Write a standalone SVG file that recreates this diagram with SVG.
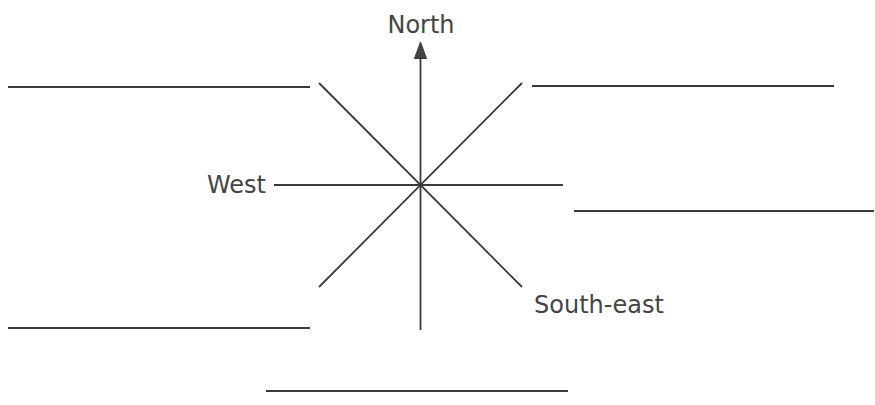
<svg xmlns="http://www.w3.org/2000/svg" width="875" height="405" viewBox="0 0 875 405">
<style>
.ln{stroke:#3a3a3a;stroke-width:1.8;fill:none}
.bl{stroke:#3a3a3a;stroke-width:2;fill:none}
.t{font-family:"DejaVu Sans",sans-serif;font-size:24px;fill:#444}
</style>
<rect width="875" height="405" fill="#fff"/>
<g id="connectors">
<line class="ln" x1="420.5" y1="56" x2="420.5" y2="330"/>
<polygon points="420.5,42 414.5,58.5 426.5,58.5" fill="#444" stroke="#3a3a3a" stroke-width="1"/>
<line class="ln" x1="274" y1="185" x2="563" y2="185"/>
<line class="ln" x1="319" y1="83" x2="522" y2="287"/>
<line class="ln" x1="522" y1="83" x2="319" y2="287"/>
</g>
<g id="blanks">
<line class="bl" x1="8" y1="87" x2="310" y2="87"/>
<line class="bl" x1="532" y1="86" x2="834" y2="86"/>
<line class="bl" x1="574" y1="211" x2="874" y2="211"/>
<line class="bl" x1="8" y1="328" x2="310" y2="328"/>
<line class="bl" x1="266" y1="391" x2="568" y2="391"/>
</g>
<g id="north"><text class="t" x="421" y="33" text-anchor="middle">North</text></g>
<g id="west"><text class="t" x="266" y="193" text-anchor="end">West</text></g>
<g id="southeast"><text class="t" x="534" y="313">South-east</text></g>
</svg>
